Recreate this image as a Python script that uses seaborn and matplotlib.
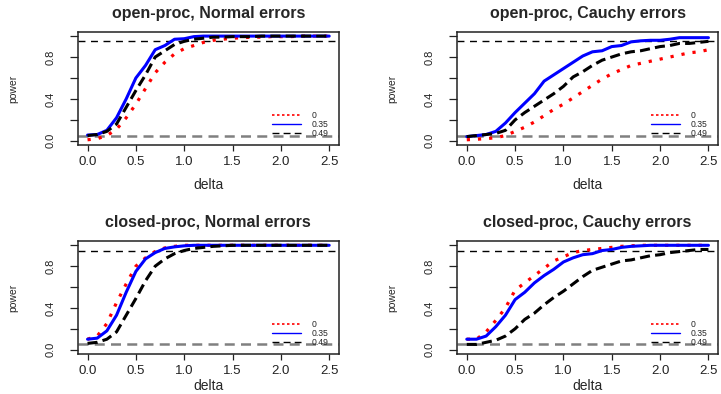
import numpy as np
import pandas as pd
import matplotlib
matplotlib.use("Agg")
import matplotlib.pyplot as plt
from matplotlib.lines import Line2D
import seaborn as sns

# delta grid (0 to 2.5 by 0.1)
delta = [0.0, 0.1, 0.2, 0.3, 0.4, 0.5, 0.6, 0.7, 0.8, 0.9, 1.0, 1.1, 1.2,
         1.3, 1.4, 1.5, 1.6, 1.7, 1.8, 1.9, 2.0, 2.1, 2.2, 2.3, 2.4, 2.5]

titles = ["open-proc, Normal errors", "open-proc, Cauchy errors",
          "closed-proc, Normal errors", "closed-proc, Cauchy errors"]
labels = ["0", "0.35", "0.49"]

# open-proc, Normal errors
open_norm_0 = [0.01, 0.02, 0.05, 0.11, 0.22, 0.35, 0.50, 0.65, 0.75, 0.83, 0.88, 0.91, 0.94,
               0.96, 0.97, 0.98, 0.985, 0.99, 0.99, 0.995, 0.995, 0.995, 1.0, 1.0, 1.0, 1.0]
open_norm_35 = [0.055, 0.06, 0.10, 0.22, 0.40, 0.60, 0.72, 0.87, 0.91, 0.97, 0.975, 0.995, 1.0,
                1.0, 1.0, 1.0, 1.0, 1.0, 1.0, 1.0, 1.0, 1.0, 1.0, 1.0, 1.0, 1.0]
open_norm_49 = [0.05, 0.06, 0.09, 0.16, 0.32, 0.48, 0.63, 0.80, 0.86, 0.92, 0.95, 0.97, 0.98,
                0.99, 0.99, 0.995, 0.995, 0.995, 1.0, 1.0, 1.0, 1.0, 1.0, 1.0, 1.0, 1.0]

# open-proc, Cauchy errors
open_cau_0 = [0.01, 0.015, 0.02, 0.03, 0.05, 0.09, 0.13, 0.18, 0.24, 0.30, 0.35, 0.41, 0.47,
              0.53, 0.59, 0.64, 0.68, 0.72, 0.74, 0.76, 0.78, 0.80, 0.82, 0.84, 0.85, 0.87]
open_cau_35 = [0.04, 0.05, 0.06, 0.09, 0.17, 0.27, 0.36, 0.45, 0.57, 0.63, 0.69, 0.75, 0.81,
               0.85, 0.86, 0.90, 0.91, 0.945, 0.955, 0.96, 0.96, 0.97, 0.985, 0.985, 0.985, 0.985]
open_cau_49 = [0.04, 0.05, 0.06, 0.07, 0.10, 0.20, 0.27, 0.33, 0.39, 0.45, 0.52, 0.61, 0.66,
               0.72, 0.77, 0.80, 0.83, 0.85, 0.86, 0.88, 0.90, 0.91, 0.93, 0.93, 0.94, 0.95]

# closed-proc, Normal errors
closed_norm_0 = [0.10, 0.13, 0.25, 0.45, 0.63, 0.80, 0.88, 0.94, 0.975, 0.99, 1.0, 1.0, 1.0,
                 1.0, 1.0, 1.0, 1.0, 1.0, 1.0, 1.0, 1.0, 1.0, 1.0, 1.0, 1.0, 1.0]
closed_norm_35 = [0.10, 0.11, 0.18, 0.33, 0.55, 0.75, 0.87, 0.93, 0.97, 0.985, 0.995, 1.0, 1.0,
                  1.0, 1.0, 1.0, 1.0, 1.0, 1.0, 1.0, 1.0, 1.0, 1.0, 1.0, 1.0, 1.0]
closed_norm_49 = [0.06, 0.07, 0.10, 0.17, 0.33, 0.49, 0.66, 0.80, 0.87, 0.92, 0.95, 0.97, 0.98,
                  0.99, 0.995, 1.0, 1.0, 1.0, 1.0, 1.0, 1.0, 1.0, 1.0, 1.0, 1.0, 1.0]

# closed-proc, Cauchy errors
closed_cau_0 = [0.10, 0.10, 0.17, 0.28, 0.40, 0.57, 0.64, 0.71, 0.78, 0.85, 0.89, 0.93, 0.95,
                0.96, 0.97, 0.98, 0.99, 0.995, 1.0, 1.0, 1.0, 1.0, 1.0, 1.0, 1.0, 1.0]
closed_cau_35 = [0.10, 0.10, 0.13, 0.22, 0.33, 0.48, 0.55, 0.64, 0.71, 0.77, 0.84, 0.88, 0.91,
                 0.92, 0.95, 0.96, 0.98, 0.99, 0.995, 1.0, 1.0, 1.0, 1.0, 1.0, 1.0, 1.0]
closed_cau_49 = [0.05, 0.05, 0.07, 0.09, 0.13, 0.20, 0.29, 0.35, 0.43, 0.50, 0.56, 0.63, 0.70,
                 0.76, 0.79, 0.82, 0.85, 0.86, 0.88, 0.90, 0.91, 0.93, 0.94, 0.95, 0.96, 0.96]

panels = [
    [open_norm_0, open_norm_35, open_norm_49],
    [open_cau_0, open_cau_35, open_cau_49],
    [closed_norm_0, closed_norm_35, closed_norm_49],
    [closed_cau_0, closed_cau_35, closed_cau_49],
]

sns.set_style("ticks")
plt.rcParams['font.family'] = ['Liberation Sans', 'DejaVu Sans']

styles = [
    dict(color='red', linestyle=(0, (1, 2.5)), linewidth=2.3),
    dict(color='blue', linestyle='-', linewidth=2.2),
    dict(color='black', linestyle=(0, (3.3, 1.7)), linewidth=2.2),
]

fig = plt.figure(figsize=(7.21, 3.94), dpi=100)
positions = [
    [0.108, 0.632, 0.362, 0.287],
    [0.634, 0.632, 0.362, 0.287],
    [0.108, 0.102, 0.362, 0.286],
    [0.634, 0.102, 0.362, 0.286],
]

for i, pos in enumerate(positions):
    ax = fig.add_axes(pos)
    ax.axhline(0.95, color='black', linestyle=(0, (5, 4)), linewidth=1.0, zorder=1)
    ax.axhline(0.05, color='#808080', linestyle=(0, (4, 2.5)), linewidth=1.8, zorder=1)
    for vals, st in zip(panels[i], styles):
        df = pd.DataFrame({'delta': delta, 'power': vals})
        sns.lineplot(data=df, x='delta', y='power', ax=ax, legend=False, **st)
    ax.set_xlim(-0.1, 2.6)
    ax.set_ylim(-0.04, 1.04)
    ax.set_xticks([0.0, 0.5, 1.0, 1.5, 2.0, 2.5])
    ax.set_xticklabels(['0.0', '0.5', '1.0', '1.5', '2.0', '2.5'], fontsize=9.5)
    ax.set_yticks([0.0, 0.2, 0.4, 0.6, 0.8, 1.0])
    ax.set_yticklabels(['0.0', '', '0.4', '', '0.8', ''], fontsize=8, rotation=90, va='center')
    ax.tick_params(axis='x', length=4, width=0.9, pad=4, colors='#222222')
    ax.tick_params(axis='y', length=6, width=0.9, pad=10, colors='#222222')
    for sp in ax.spines.values():
        sp.set_visible(True)
        sp.set_linewidth(1.1)
        sp.set_color('#222222')
    ax.set_title(titles[i], fontsize=11.5, fontweight='bold', pad=10)
    ax.set_xlabel('delta', fontsize=10)
    ax.set_ylabel('power', fontsize=7.5)
    ax.xaxis.set_label_coords(0.5, -0.29 if i < 2 else -0.22)
    ax.yaxis.set_label_coords(-0.23, 0.5)
    handles = [Line2D([0], [0], color='red', linestyle=(0, (1.5, 1.5)), linewidth=1.2),
               Line2D([0], [0], color='blue', linestyle='-', linewidth=1.0),
               Line2D([0], [0], color='black', linestyle=(0, (5, 3)), linewidth=1.0)]
    ax.legend(handles, labels, loc='lower left', bbox_to_anchor=(0.73, 0.03),
              frameon=False, fontsize=6.2, handlelength=3.4, labelspacing=0.0,
              handletextpad=1.2, borderaxespad=0)

fig.savefig('out.png', dpi=100)
